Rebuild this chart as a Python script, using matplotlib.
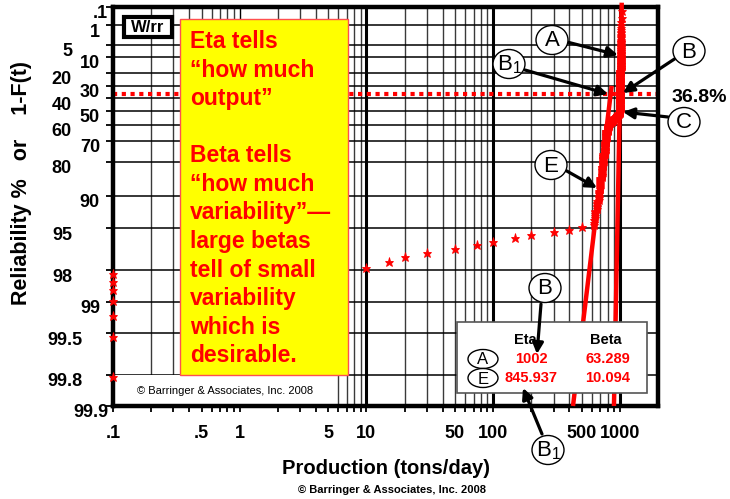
import numpy as np
import matplotlib
matplotlib.use('Agg')
import matplotlib.pyplot as plt
import matplotlib.transforms as mtransforms
from matplotlib.patches import Rectangle, Ellipse, FancyArrowPatch

plt.rcParams['font.family'] = ['Liberation Sans', 'DejaVu Sans']
plt.rcParams['mathtext.default'] = 'regular'

# daily production (tons/day) and number of days at that level (365 days)
zero_days = 7
prod_levels = [10, 15, 20, 30, 50, 75, 100, 150, 200, 300, 400, 500,
               620, 640, 660, 680, 700, 720, 740, 760, 780, 800,
               820, 840, 860, 880, 900, 925, 950, 970, 985,
               995, 1000, 1005, 1010, 1015, 1020, 1025, 1030, 1040]
day_counts = [1, 1, 1, 1, 1, 1, 1, 1, 1, 1, 1, 1,
              3, 5, 6, 8, 12, 14, 18, 22, 24, 14,
              4, 4, 4, 4, 4, 3, 3, 3, 3,
              15, 30, 35, 40, 35, 20, 8, 3, 2]

# weibull fits
fit_names = ['A', 'E']
fit_eta = [1002, 845.937]
fit_beta = [63.289, 10.094]
fit_top_rel = [0.05, 30]   # reliability % where each line stops

rel_ticks = [0.1, 1, 5, 10, 20, 30, 40, 50, 60, 70, 80, 90, 95, 98, 99, 99.5, 99.8, 99.9]
rel_labels = ['.1', '1', '5', '10', '20', '30', '40', '50', '60', '70', '80',
              '90', '95', '98', '99', '99.5', '99.8', '99.9']
rel_label_dx = [5, 13, 41, 13, 41, 13, 41, 13, 41, 13, 41, 13, 41, 41, 13, 31, 31, 5]

x_ticks = [0.1, 0.5, 1, 5, 10, 50, 100, 500, 1000]
x_labels = ['.1', '.5', '1', '5', '10', '50', '100', '500', '1000']


def wy(rel_pct):
    return np.log(-np.log(np.asarray(rel_pct, dtype=float) / 100.0))


W, H = 730, 499


def fp(x, y):
    return (x / W, 1 - y / H)


fig = plt.figure(figsize=(W / 100, H / 100), dpi=100)
ax = fig.add_axes([113 / W, 1 - 406 / H, (658 - 113) / W, (406 - 7) / H])
ax.set_xscale('log')
ax.set_xlim(0.1, 2000)
ax.set_ylim(wy(99.9), wy(0.1))

# grid
for k in range(-1, 4):
    for m in range(1, 10):
        v = m * 10.0 ** k
        if v <= 0.1 or v >= 2000:
            continue
        lw = 2.2 if (m == 1 and k >= 1) else 1.0
        col = 'black' if m == 1 else '#3a3a3a'
        ax.axvline(v, color=col, lw=lw, zorder=1)
for r in rel_ticks[1:-1]:
    ax.axhline(wy(r), color='black', lw=1.1, zorder=1)

# ticks
minor = [m * 10.0 ** k for k in range(-1, 4) for m in range(1, 10)
         if 0.1 < m * 10.0 ** k < 2000]
ax.set_xticks(x_ticks)
ax.set_xticklabels(x_labels, fontsize=13, fontweight='bold')
ax.set_xticks(minor, minor=True)
ax.xaxis.set_minor_formatter(matplotlib.ticker.NullFormatter())
ax.tick_params(axis='x', which='both', direction='out', length=4, width=1.3, pad=10)
ax.set_yticks(wy(rel_ticks))
ax.set_yticklabels([])
ax.tick_params(axis='y', which='both', direction='out', length=5, width=1.3)
ax.yaxis.set_minor_locator(matplotlib.ticker.NullLocator())

for s in ax.spines.values():
    s.set_linewidth(3.2)
    s.set_color('black')

blend = mtransforms.blended_transform_factory(ax.transAxes, ax.transData)
for r, lab, dx in zip(rel_ticks, rel_labels, rel_label_dx):
    ax.annotate(lab, xy=(0, wy(r)), xycoords=blend,
                xytext=(-dx * 0.72, -5), textcoords='offset points',
                ha='right', va='center', fontsize=13, fontweight='bold')

# 36.8% line
ax.axhline(0, color='red', lw=3, ls=(0, (1, 1.1)), zorder=2)
fig.text(*fp(699, 97), '36.8%', ha='center', va='center', fontsize=14, fontweight='bold')

# copyright box inside plot
ax.add_patch(Rectangle((0, 0), (337 - 113) / 545, (406 - 375) / 399, transform=ax.transAxes,
                       facecolor='white', edgecolor='none', zorder=2))
ax.text((225 - 113) / 545, (406 - 391) / 399, '\u00a9 Barringer & Associates, Inc. 2008',
        transform=ax.transAxes, ha='center', va='center', fontsize=8, zorder=3)

# fitted lines
for eta, beta, top in zip(fit_eta, fit_beta, fit_top_rel):
    yy = np.array([wy(99.9), wy(top)])
    ax.plot(eta * np.exp(yy / beta), yy, color='red', lw=3.2, zorder=3,
            solid_capstyle='butt', clip_on=False)

# data points, Benard median ranks
prod = np.concatenate([np.full(zero_days, 0.1), np.repeat(prod_levels, day_counts)])
n = len(prod)
ranks = np.arange(1, n + 1)
F = (ranks - 0.3) / (n + 0.4)
ax.plot(prod, np.log(-np.log(1 - F)), ls='none', marker='*', ms=6.5, mew=0.6,
        color='red', zorder=4, clip_on=False)

# labels
ax.set_xlabel('Production (tons/day)', fontsize=14.5, fontweight='bold', labelpad=12)
fig.text(*fp(22, 183), 'Reliability %   or    1-F(t)', rotation=90, ha='center', va='center',
         fontsize=15.5, fontweight='bold')
fig.text(*fp(392, 490), '\u00a9 Barringer & Associates, Inc. 2008', ha='center', va='center',
         fontsize=8, fontweight='bold')

# W/rr box
fig.add_artist(Rectangle(fp(124, 37), 48 / W, 20 / H, transform=fig.transFigure,
                         facecolor='white', edgecolor='black', lw=3, zorder=5))
fig.text(*fp(148, 28), 'W/rr', ha='center', va='center', fontsize=12, fontweight='bold', zorder=6)

# yellow note
fig.add_artist(Rectangle(fp(180, 375), 168 / W, 356 / H, transform=fig.transFigure,
                         facecolor='#FFFF00', edgecolor='#FF5050', lw=1, zorder=5))
fig.text(*fp(190, 30), 'Eta tells\n\u201chow much\noutput\u201d\n\nBeta tells\n\u201chow much\n'
         'variability\u201d\u2014\nlarge betas\ntell of small\nvariability\nwhich is\ndesirable.',
         ha='left', va='top', fontsize=16.5, fontweight='bold', color='red',
         linespacing=1.31, zorder=6)

# parameter table
fig.add_artist(Rectangle(fp(457, 393), 190 / W, 71 / H, transform=fig.transFigure,
                         facecolor='white', edgecolor='#555555', lw=1.2, zorder=5))
fig.text(*fp(525, 340), 'Eta', ha='center', va='center', fontsize=10.5, fontweight='bold', zorder=6)
fig.text(*fp(606, 340), 'Beta', ha='center', va='center', fontsize=10.5, fontweight='bold', zorder=6)
for i, (nm, eta, beta) in enumerate(zip(fit_names, fit_eta, fit_beta)):
    yrow = 359 + 19 * i
    fig.add_artist(Ellipse(fp(483, yrow), 30 / W, 19 / H, transform=fig.transFigure,
                           facecolor='white', edgecolor='black', lw=1, zorder=6))
    fig.text(*fp(483, yrow + 1), nm, ha='center', va='center', fontsize=12, zorder=7)
    fig.text(*fp(531, yrow), f'{eta:g}', ha='center', va='center', fontsize=10.5,
             fontweight='bold', color='red', zorder=7)
    fig.text(*fp(608, yrow), f'{beta:.3f}', ha='center', va='center', fontsize=10.5,
             fontweight='bold', color='red', zorder=7)

# callouts: letter, circle centre, arrow start, arrow end (pixels)
callouts = [
    ('A', (552, 40), (567, 42), (618, 55)),
    ('B$_1$', (509, 64), (525, 70), (608, 94)),
    ('B', (689, 51), (676, 58), (623, 93)),
    ('C', (684, 122), (668, 117), (623, 112)),
    ('E', (551, 165), (565, 170), (597, 188)),
    ('B', (545, 288), (541, 304), (537, 354)),
    ('B$_1$', (548, 450), (542, 434), (523, 388)),
]
for lab, c, a0, a1 in callouts:
    fig.add_artist(FancyArrowPatch(fp(*a0), fp(*a1), transform=fig.transFigure,
                                   arrowstyle='-|>', mutation_scale=16, lw=2.3,
                                   color='black', shrinkA=0, shrinkB=0, zorder=7))
    fig.add_artist(Ellipse(fp(*c), 32 / W, 29 / H, transform=fig.transFigure,
                           facecolor='white', edgecolor='black', lw=1, zorder=8))
    fig.text(*fp(c[0], c[1] + 1), lab, ha='center', va='center', fontsize=16, zorder=9)

fig.savefig('out.png', dpi=100)
